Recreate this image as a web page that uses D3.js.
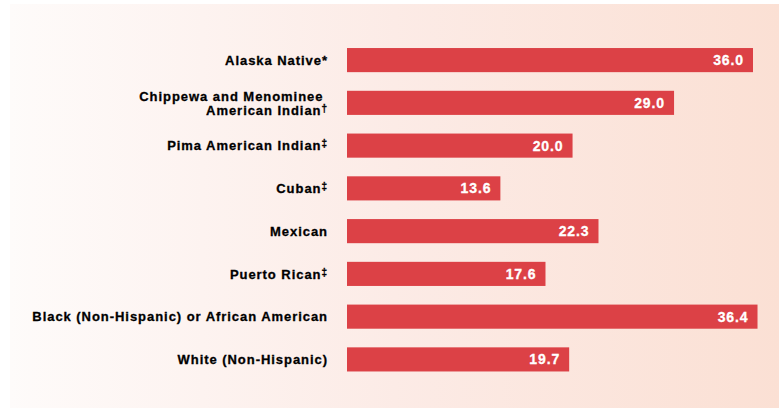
<!DOCTYPE html>
<html>
<head>
<meta charset="utf-8">
<script src="https://cdn.jsdelivr.net/npm/d3@7"></script>
<style>
  html, body { margin: 0; padding: 0; background: #ffffff; }
  svg { display: block; }
</style>
</head>
<body>
<svg id="chart" width="779" height="408"></svg>
<script>
// Rates by population group; a trailing note mark is kept separate so it can be set as a superscript
const groups = [
  [["Alaska Native*", ""]],
  [["Chippewa and Menominee ", ""], ["American Indian", "\u2020"]],
  [["Pima American Indian", "\u2021"]],
  [["Cuban", "\u2021"]],
  [["Mexican", ""]],
  [["Puerto Rican", "\u2021"]],
  [["Black (Non-Hispanic) or African American", ""]],
  [["White (Non-Hispanic)", ""]]
];
const values = [36.0, 29.0, 20.0, 13.6, 22.3, 17.6, 36.4, 19.7];

const W = 779, H = 408;
const svg = d3.select("#chart");

// Soft warm background panel
const defs = svg.append("defs");
const grad = defs.append("linearGradient").attr("id", "bg").attr("x1", "0").attr("x2", "1").attr("y1", "0").attr("y2", "0");
grad.append("stop").attr("offset", "0").attr("stop-color", "#fefbfa");
grad.append("stop").attr("offset", "0.5").attr("stop-color", "#fcebe6");
grad.append("stop").attr("offset", "1").attr("stop-color", "#fbe0d4");
svg.append("rect").attr("x", 10).attr("y", 4).attr("width", W - 10).attr("height", H - 4).attr("fill", "url(#bg)");

const x0 = 347;
const x = d3.scaleLinear().domain([0, 36]).range([x0, 753]);
const y = d3.scaleBand()
  .domain(d3.range(values.length))
  .range([30.5, 389])
  .paddingInner(0.436)
  .paddingOuter(0.41);

const font = "'Liberation Sans', Arial, Helvetica, sans-serif";

const rows = svg.append("g").selectAll("g").data(values).join("g");

rows.append("rect")
  .attr("x", x0)
  .attr("y", (d, i) => y(i))
  .attr("width", d => x(d) - x0)
  .attr("height", y.bandwidth())
  .attr("fill", "#dc4146");

rows.append("text")
  .attr("x", d => x(d) - 9)
  .attr("y", (d, i) => y(i) + y.bandwidth() / 2)
  .attr("dy", "0.36em")
  .attr("text-anchor", "end")
  .attr("fill", "#ffffff")
  .attr("stroke", "#ffffff")
  .attr("stroke-width", 0.3)
  .attr("font-family", font)
  .attr("font-weight", "bold")
  .attr("font-size", 14)
  .attr("letter-spacing", "0.9px")
  .text(d => d.toFixed(1));

// Category labels, right-aligned to the left of the bars
rows.each(function(d, i) {
  const lines = groups[i];
  const cy = y(i) + y.bandwidth() / 2;
  const lh = 14;
  const top = cy - (lines.length - 1) * lh / 2;
  lines.forEach((ln, k) => {
    const t = d3.select(this).append("text")
      .attr("x", 328)
      .attr("y", top + k * lh)
      .attr("dy", "0.36em")
      .attr("text-anchor", "end")
      .attr("fill", "#000000")
      .attr("stroke", "#000000")
      .attr("stroke-width", 0.3)
      .attr("font-family", font)
      .attr("font-weight", "bold")
      .attr("font-size", 13)
      .attr("letter-spacing", "0.95px")
      .attr("xml:space", "preserve");
    t.append("tspan").text(ln[0]);
    if (ln[1]) {
      t.append("tspan")
        .attr("font-size", 10)
        .attr("dy", -3)
        .text(ln[1]);
    }
  });
});
</script>
</body>
</html>
